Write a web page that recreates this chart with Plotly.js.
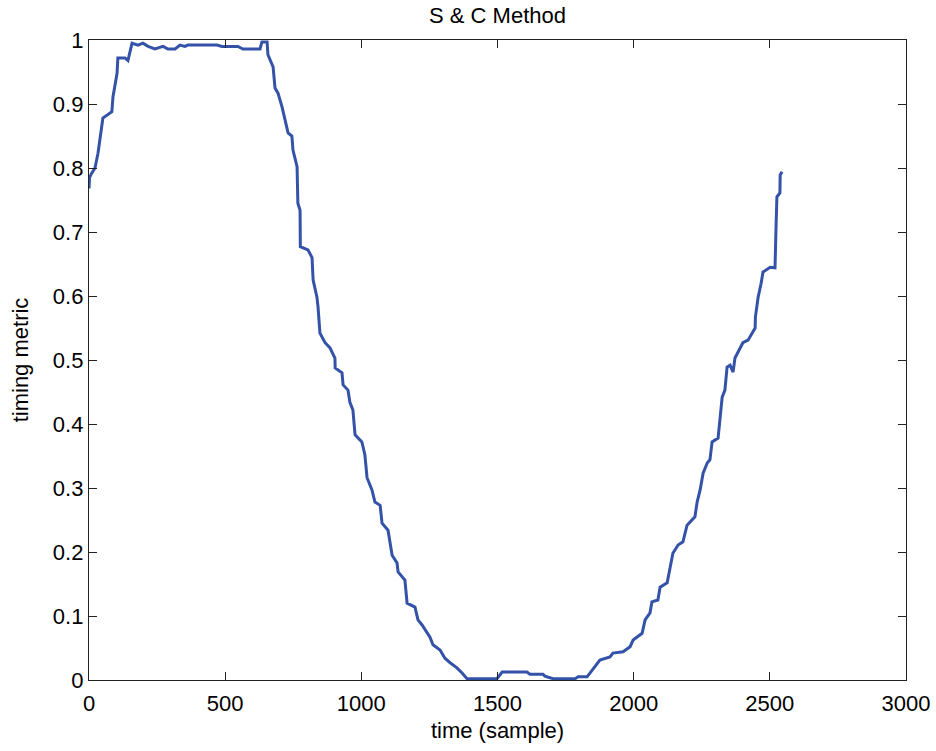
<!DOCTYPE html>
<html>
<head>
<meta charset="utf-8">
<script src="https://cdn.plot.ly/plotly-3.0.1.min.js"></script>
<style>html,body{margin:0;padding:0;background:#fff;}#chart{width:936px;height:751px;}</style>
</head>
<body>
<div id="chart"></div>
<script>
const titleText = "S & C Method";
const xLabel = "time (sample)";
const yLabel = "timing metric";
const timeSamples = [0,2,10,22,33,40,51,84,88,103,106,132,143,158,180,198,217,242,272,290,316,334,352,363,470,488,547,565,628,635,654,657,
676,683,694,709,720,731,745,749,764,767,775,776,804,819,823,837,841,848,867,885,903,904,929,933,951,958,969,977,1002,1013,1021,1039,1050,1069,1076,1098,1113,1131,1135,1160,1168,1197,1208,1223,1252,1263,1289,1307,1326,1351,1370,1388,
1498,1517,1608,1619,1667,1674,1704,1785,1796,1829,
1876,1913,1924,1961,1987,1998,2031,2042,2060,2067,2089,2097,2123,2134,2144,2163,2181,2196,2225,2233,2244,2255,2270,2280,2288,2310,2317,2325,2335,2343,2354,2365,2372,2390,2401,2420,2435,2446,2447,2457,2468,2475,2501,2519,2523,2526,2537,2538,2545];
const timingMetric = [0.768,0.785,0.792,0.80,0.823,0.845,0.878,0.888,0.911,0.948,0.972,0.972,0.968,0.995,0.992,0.995,0.99,0.986,0.99,0.986,0.986,0.992,0.99,0.992,0.992,0.99,0.99,0.986,0.986,0.997,0.997,0.977,
0.958,0.925,0.917,0.895,0.875,0.855,0.85,0.828,0.802,0.745,0.734,0.677,0.672,0.66,0.625,0.598,0.583,0.542,0.527,0.519,0.503,0.4875,0.48,0.461,0.453,0.434,0.422,0.383,0.372,0.352,0.316,0.297,0.278,0.273,0.245,0.234,0.195,0.183,0.169,0.156,0.12,0.114,0.094,0.086,0.067,0.055,0.047,0.034,0.027,0.019,0.011,0.002,
0.002,0.0125,0.0125,0.009,0.009,0.006,0.002,0.002,0.005,0.005,
0.031,0.036,0.042,0.044,0.052,0.0625,0.073,0.094,0.105,0.122,0.125,0.145,0.152,0.177,0.198,0.211,0.216,0.242,0.255,0.278,0.297,0.323,0.339,0.344,0.372,0.378,0.406,0.442,0.453,0.489,0.492,0.481,0.503,0.519,0.527,0.531,0.542,0.55,0.567,0.598,0.62,0.6375,0.645,0.644,0.711,0.755,0.761,0.789,0.794];
const xTicks = [0,500,1000,1500,2000,2500,3000];
const yTicks = [0,0.1,0.2,0.3,0.4,0.5,0.6,0.7,0.8,0.9,1];

const font = {family: "Liberation Sans, Arial, sans-serif", size: 22, color: "#000"};
const trace = {x: timeSamples, y: timingMetric, type: "scatter", mode: "lines",
  line: {color: "#3352a8", width: 3}, hoverinfo: "none"};
const axisCommon = {showgrid: false, zeroline: false, showline: true, linecolor: "#222", linewidth: 1.2,
  mirror: "allticks", ticks: "inside", ticklen: 8, tickcolor: "#222", tickwidth: 1, tickfont: font};
const layout = {
  width: 936, height: 751, paper_bgcolor: "#fff", plot_bgcolor: "#fff",
  margin: {l: 89, r: 30, t: 40, b: 71},
  showlegend: false, font: font,
  title: {text: titleText, font: font, x: 0.5, xref: "paper", xanchor: "center", y: 0.98, yanchor: "middle"},
  xaxis: Object.assign({}, axisCommon, {range: [0, 3000], tickvals: xTicks, ticklabelstandoff: 3,
    title: {text: xLabel, font: font, standoff: 8}}),
  yaxis: Object.assign({}, axisCommon, {range: [0, 1], tickvals: yTicks, ticklabelstandoff: 0,
    title: {text: yLabel, font: font, standoff: 18}})
};
Plotly.newPlot("chart", [trace], layout, {staticPlot: true, displayModeBar: false});
</script>
</body>
</html>
